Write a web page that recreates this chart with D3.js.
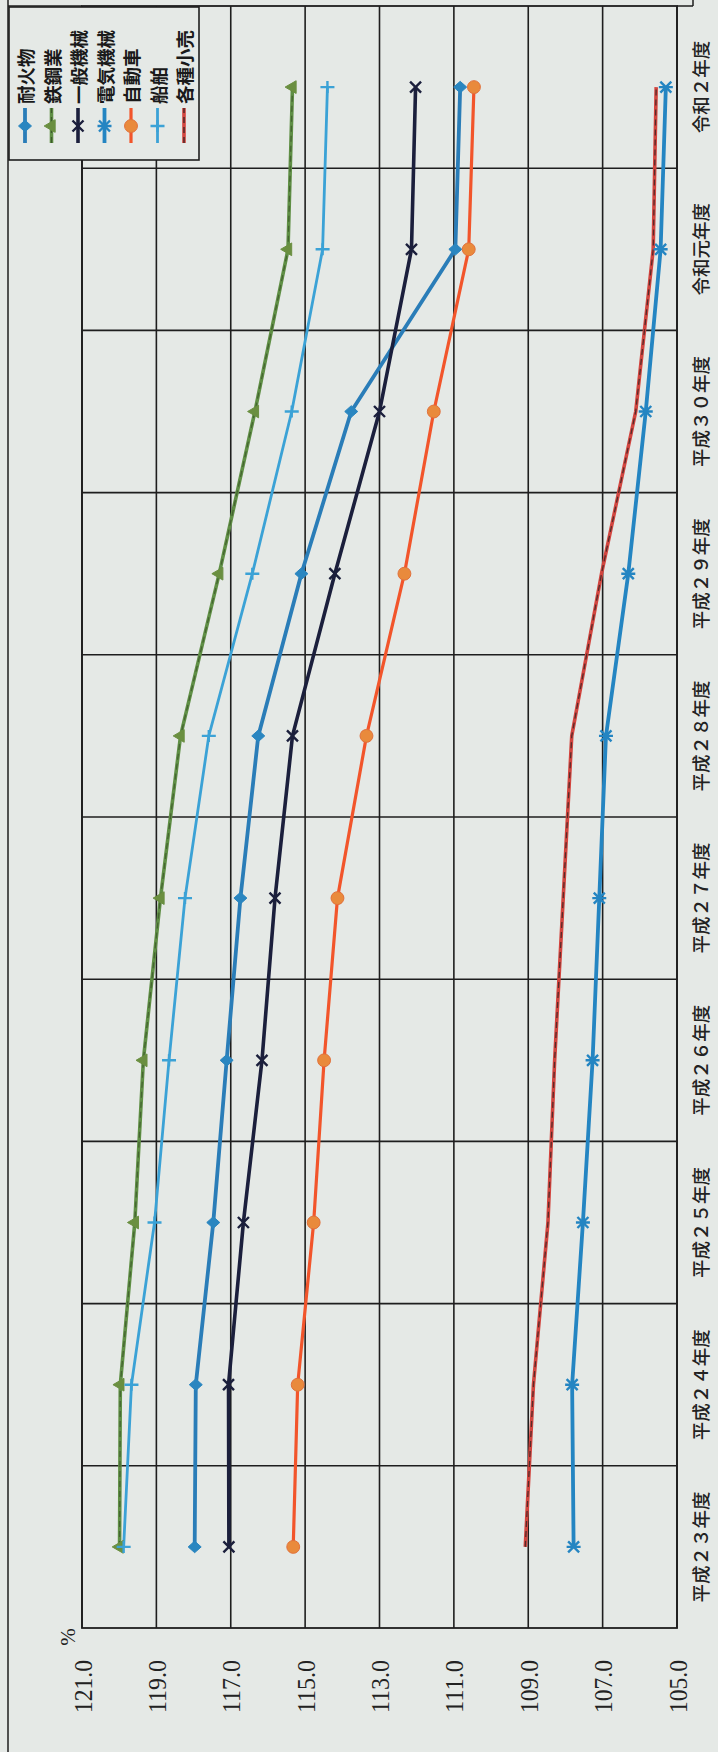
<!DOCTYPE html>
<html><head><meta charset="utf-8">
<script src="https://cdn.jsdelivr.net/npm/d3@7"></script>
<style>html,body{margin:0;padding:0;background:#e5e9e6;} svg{display:block;}</style>
</head><body>
<svg id="c" width="718" height="1752"></svg>
<script>
// ---- data ----
const categories = ["平成２３年度","平成２４年度","平成２５年度","平成２６年度","平成２７年度","平成２８年度","平成２９年度","平成３０年度","令和元年度","令和２年度"];
const seriesNames = ["耐火物","鉄鋼業","一般機械","電気機械","自動車","船舶","各種小売"];
const taikabutsu = [117.97,117.94,117.47,117.11,116.74,116.26,115.10,113.76,110.96,110.83];
const tekkou     = [119.99,119.97,119.58,119.35,118.89,118.35,117.31,116.35,115.46,115.34];
const ippan      = [117.05,117.06,116.66,116.16,115.81,115.34,114.20,113.00,112.14,112.03];
const denki      = [107.78,107.82,107.53,107.27,107.09,106.91,106.31,105.84,105.44,105.30];
const jidousha   = [115.32,115.20,114.77,114.49,114.13,113.35,112.33,111.54,110.60,110.46];
const senpaku    = [119.88,119.67,119.05,118.66,118.23,117.59,116.42,115.36,114.53,114.40];
const kouri      = [109.08,108.86,108.47,108.29,108.06,107.83,107.03,106.11,105.64,105.56];
const valueTicks = [105,107,109,111,113,115,117,119,121];
const unitLabel = "%";

// ---- styles ----
const BG = "#e5e9e6", GRID = "#1e1e1e";
const series = [
  {name:seriesNames[0], values:taikabutsu, color:"#2a7db8", width:3.8, marker:"diamond", mfill:"#2a86c0"},
  {name:seriesNames[1], values:tekkou,     color:"#5f8f45", width:3.6, marker:"triangle", mfill:"#6a8f40", overlay:"#3e5a2c"},
  {name:seriesNames[2], values:ippan,      color:"#1b1f3c", width:3.6, marker:"x", mfill:"#1b1f3c"},
  {name:seriesNames[3], values:denki,      color:"#2485c2", width:3.8, marker:"asterisk", mfill:"#2485c2"},
  {name:seriesNames[4], values:jidousha,   color:"#f2552b", width:3.2, marker:"circle", mfill:"#e98a3c"},
  {name:seriesNames[5], values:senpaku,    color:"#3ba2d6", width:2.8, marker:"plus", mfill:"#3ba2d6"},
  {name:seriesNames[6], values:kouri,      color:"#d2453f", width:3.6, marker:"none", mfill:"#d2453f", overlay:"#3a2424"}
];

const svg = d3.select("#c");
svg.append("rect").attr("width",718).attr("height",1752).attr("fill",BG);
// whole chart is drawn in landscape and turned a quarter turn counter-clockwise
const g = svg.append("g").attr("transform","translate(0,1752) rotate(-90)");

const plot = {left:124, right:1746, top:82, bottom:677};
const x = d3.scaleBand().domain(categories).range([plot.left, plot.right]);
const y = d3.scaleLinear().domain([105,121]).range([plot.bottom, plot.top]);
const cx = c => x(c) + x.bandwidth()/2;

// outer frame pieces
g.append("line").attr("x1",0).attr("x2",1752).attr("y1",8).attr("y2",8).attr("stroke",GRID).attr("stroke-width",1.5);
g.append("line").attr("x1",plot.right).attr("x2",plot.right).attr("y1",8).attr("y2",plot.top).attr("stroke",GRID).attr("stroke-width",1.5);
g.append("line").attr("x1",plot.right).attr("x2",plot.right).attr("y1",plot.bottom).attr("y2",693).attr("stroke",GRID).attr("stroke-width",1.5);
g.append("line").attr("x1",plot.right).attr("x2",1752).attr("y1",693).attr("y2",693).attr("stroke",GRID).attr("stroke-width",1.5);

// grid
const grid = g.append("g");
grid.selectAll("line.v").data(valueTicks).join("line")
  .attr("x1",plot.left).attr("x2",plot.right).attr("y1",d=>y(d)).attr("y2",d=>y(d))
  .attr("stroke",GRID).attr("stroke-width",1.6);
grid.selectAll("line.c").data(categories.slice(1)).join("line")
  .attr("x1",d=>x(d)).attr("x2",d=>x(d)).attr("y1",plot.top).attr("y2",plot.bottom)
  .attr("stroke",GRID).attr("stroke-width",1.6);
grid.append("rect").attr("x",plot.left).attr("y",plot.top)
  .attr("width",plot.right-plot.left).attr("height",plot.bottom-plot.top)
  .attr("fill","none").attr("stroke",GRID).attr("stroke-width",1.8);

// axes
const yAxis = d3.axisLeft(y).tickValues(valueTicks).tickSize(0).tickPadding(32).tickFormat(d3.format(".1f"));
const ya = g.append("g").attr("transform",`translate(${plot.left},0)`).call(yAxis);
ya.select(".domain").remove();
ya.selectAll("text").attr("font-family","'Liberation Serif','DejaVu Serif',serif").attr("font-size",26)
  .attr("fill","#222").attr("textLength",53).attr("lengthAdjust","spacingAndGlyphs").attr("dy","0.35em");

const xAxis = d3.axisBottom(x).tickSize(0).tickPadding(14);
const xa = g.append("g").attr("transform",`translate(0,${plot.bottom})`).call(xAxis);
xa.select(".domain").remove();
xa.selectAll("text").attr("y",23).attr("dy",0).attr("dominant-baseline","central")
  .attr("font-family","'Noto Sans CJK JP','Noto Sans',sans-serif").attr("font-size",18.5)
  .attr("font-weight","500").attr("fill","#222");

g.append("text").attr("x",115).attr("y",68).attr("text-anchor","middle").attr("dominant-baseline","central")
  .attr("font-family","'Liberation Serif','DejaVu Serif',serif").attr("font-size",21).attr("fill","#222").text(unitLabel);

// markers
function markerPath(type){
  switch(type){
    case "diamond": return "M0,-6.5L5.8,0L0,6.5L-5.8,0Z";
    case "triangle": return d3.symbol(d3.symbolTriangle, 70)();
    case "circle": return d3.symbol(d3.symbolCircle, 130)();
    case "x": return "M-5.5,-5.5L5.5,5.5M-5.5,5.5L5.5,-5.5";
    case "asterisk": return "M-5.5,-5.5L5.5,5.5M-5.5,5.5L5.5,-5.5M0,-7L0,7";
    case "plus": return "M-6,0L6,0M0,-7L0,7";
    default: return "";
  }
}
const stroked = t => t==="x"||t==="asterisk"||t==="plus";
function drawMarker(sel, s){
  if(s.marker==="none") return;
  sel.append("path").attr("d",markerPath(s.marker))
    .attr("fill", stroked(s.marker) ? "none" : s.mfill)
    .attr("stroke", stroked(s.marker) ? s.mfill : (s.marker==="circle" ? "#e2703a" : s.mfill))
    .attr("stroke-width", stroked(s.marker) ? 2.4 : 1);
}

const line = d3.line().x((d,i)=>cx(categories[i])).y(d=>y(d));
const lines = g.append("g");
series.forEach(s=>{
  lines.append("path").attr("d",line(s.values)).attr("fill","none")
    .attr("stroke",s.color).attr("stroke-width",s.width).attr("stroke-linejoin","round");
  if(s.overlay){
    lines.append("path").attr("d",line(s.values)).attr("fill","none")
      .attr("stroke",s.overlay).attr("stroke-width",1.3).attr("stroke-dasharray","6,4").attr("opacity",0.8);
  }
});
const marks = g.append("g");
series.forEach(s=>{
  s.values.forEach((v,i)=>{
    const m = marks.append("g").attr("transform",`translate(${cx(categories[i])},${y(v)})`);
    drawMarker(m, s);
  });
});

// legend (top-right corner in landscape)
const lg = g.append("g");
const L = {x0:1592, x1:1745, y0:9, y1:199};
lg.append("rect").attr("x",L.x0).attr("y",L.y0).attr("width",L.x1-L.x0).attr("height",L.y1-L.y0)
  .attr("fill",BG).attr("stroke",GRID).attr("stroke-width",1.6);
const ly = d3.scalePoint().domain(seriesNames).range([25,184]);
series.forEach(s=>{
  const yy = ly(s.name);
  const e = lg.append("g");
  e.append("line").attr("x1",1609).attr("x2",1644).attr("y1",yy).attr("y2",yy)
    .attr("stroke",s.color).attr("stroke-width",s.width);
  if(s.overlay){
    e.append("line").attr("x1",1609).attr("x2",1644).attr("y1",yy).attr("y2",yy)
      .attr("stroke",s.overlay).attr("stroke-width",1.3).attr("stroke-dasharray","6,4");
  }
  const m = e.append("g").attr("transform",`translate(1626,${yy})`);
  drawMarker(m, s);
  e.append("text").attr("x",1648).attr("y",yy).attr("dominant-baseline","central")
    .attr("font-family","'Noto Sans CJK JP','Noto Sans',sans-serif").attr("font-size",18.5)
    .attr("font-weight","700").attr("fill","#1a1a1a").text(s.name);
});
</script>
</body></html>
